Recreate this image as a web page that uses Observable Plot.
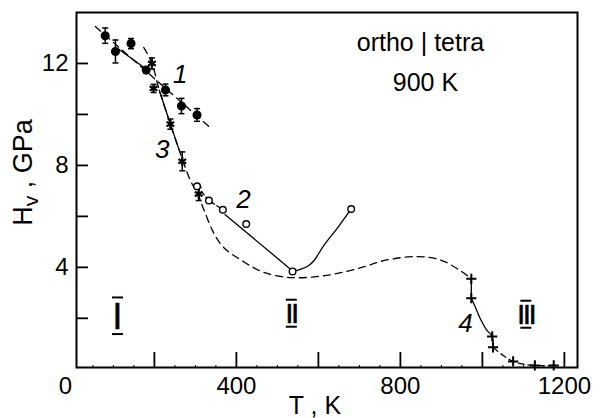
<!DOCTYPE html>
<html><head><meta charset="utf-8">
<script src="https://cdn.jsdelivr.net/npm/d3@7"></script>
<script src="https://cdn.jsdelivr.net/npm/@observablehq/plot@0.6"></script>
<style>body{margin:0;background:#fff} svg{display:block}</style>
</head><body><div id="chart"></div>
<script>
// Series 1: filled circles with error bars
const s1T = [80, 105, 143, 180, 227, 266, 304];
const s1H = [13.09, 12.47, 12.78, 11.74, 10.96, 10.33, 9.98];
const s1E = [0.3, 0.45, 0.2, 0.12, 0.23, 0.3, 0.25];
// Series 3: asterisks with error bars
const s3T = [194, 198, 239, 268, 308];
const s3H = [12.0, 11.02, 9.62, 8.16, 6.88];
const s3E = [0.22, 0.16, 0.2, 0.37, 0.26];
// Series 2: open circles
const s2T = [304, 333, 367, 424, 537, 680];
const s2H = [7.18, 6.62, 6.26, 5.70, 3.84, 6.29];
// Series 4: plus markers
const s4T = [973, 973, 1024, 1026, 1075, 1128, 1174];
const s4H = [3.55, 2.79, 1.29, 0.86, 0.31, 0.15, 0.15];

// Guide curves
const fit1T = [56, 337], fit1H = [13.45, 9.47];
const seg1T = [113, 180], seg1H = [12.56, 11.78];
const c3T = [174, 194, 212, 239, 261, 288, 304, 320, 344, 369, 414, 467, 532, 613, 694, 767, 841, 898, 946, 973];
const c3H = [12.63, 12.0, 10.95, 9.62, 8.58, 7.4, 6.94, 6.29, 5.37, 4.78, 4.26, 3.8, 3.6, 3.67, 3.94, 4.29, 4.42, 4.29, 3.87, 3.55];
const seg3T = [212, 239, 261], seg3H = [10.95, 9.62, 8.58];
const c2aT = [304, 333, 367], c2aH = [7.18, 6.62, 6.26];
const c2bT = [372, 532], c2bH = [6.07, 3.93];
const c2cT = [537, 556, 575, 589, 613, 650, 680], c2cH = [3.84, 3.92, 4.05, 4.26, 4.85, 5.62, 6.29];
const c4aT = [973, 973], c4aH = [3.55, 2.79];
const c4bT = [973, 983, 995, 1010, 1024, 1026], c4bH = [2.79, 2.43, 1.98, 1.55, 1.29, 0.86];
const c4cT = [1026, 1050, 1075, 1100, 1128, 1174], c4cH = [0.86, 0.55, 0.31, 0.2, 0.15, 0.15];

// Ticks
const yTicks = [2, 4, 6, 8, 10, 12];
const yLabels = [4, 8, 12];
const xTicks = [200, 400, 600, 800, 1000, 1200];
const xMinor = [50, 100, 150, 250, 300, 350, 450, 500, 550, 650, 700, 750, 850, 900, 950, 1050, 1100, 1150];
const xLabels = [400, 800, 1200];
const xZero = [0];

// Texts
const curveNames = ["1", "3", "2", "4"];
const curveNameT = [263, 219, 417, 959];
const curveNameH = [11.56, 8.62, 6.66, 1.79];
const romanNames = ["I", "II", "III"];
const romanT = [110, 534, 1106];
const romanH = [2.1, 2.2, 2.16];
const noteTexts = ["ortho | tetra", "900 K"];
const noteT = [849, 861];
const noteH = [12.79, 11.24];
const xTitle = "T , K";
const yTitle = "Hv , GPa";

const pts = (T, H, E) => T.map((t, i) => ({T: t, H: H[i], E: E ? E[i] : 0}));
const txt = (S, T, H) => S.map((s, i) => ({s, T: T[i], H: H[i]}));
const capSym = {draw(ctx, size) { const r = Math.sqrt(size / Math.PI); ctx.moveTo(-r, 0); ctx.lineTo(r, 0); }};
const font = "'Liberation Sans', Arial, sans-serif";
const fmt = d => String(d);

const p1 = pts(s1T, s1H, s1E), p3 = pts(s3T, s3H, s3E), p2 = pts(s2T, s2H), p4 = pts(s4T, s4H);
const romans = txt(romanNames, romanT, romanH);
const romanBig = romans.filter(d => d.s.length === 1), romanSmall = romans.filter(d => d.s.length > 1);
const line = (T, H, o) => Plot.line(pts(T, H), {x: "T", y: "H", stroke: "#000", strokeWidth: 1.3, ...o});
const bar = (data, dy) => Plot.dot(data, {x: "T", y: "H", symbol: capSym, r: 5.5, dy, stroke: "#000", strokeWidth: 2});
const dash = "7,5";

const chart = Plot.plot({
  width: 613, height: 418,
  marginLeft: 76, marginRight: 36, marginTop: 12, marginBottom: 51,
  style: {fontFamily: font, fontSize: "24px", color: "#000", background: "#fff"},
  x: {domain: [10, 1232]},
  y: {domain: [0.07, 14]},
  marks: [
    Plot.frame({strokeWidth: 2}),
    Plot.axisY(yTicks, {tickSize: -12, text: null, strokeWidth: 1.8, label: null}),
    Plot.axisY(yLabels, {tickSize: 0, tickPadding: 8, fontSize: 24, tickFormat: fmt, label: null}),
    Plot.axisX(xTicks, {tickSize: -15, text: null, strokeWidth: 1.8, label: null}),
    Plot.axisX(xMinor, {tickSize: -2, text: null, strokeWidth: 1, label: null}),
    Plot.axisX(xLabels, {tickSize: 0, tickPadding: 9, fontSize: 24, tickFormat: fmt, label: null}),
    Plot.axisX(xZero, {tickSize: 0, tickPadding: 9, fontSize: 24, dx: -7, tickFormat: fmt, label: null}),
    // curves
    line(fit1T, fit1H, {strokeDasharray: dash}),
    line(seg1T, seg1H, {}),
    line(c3T, c3H, {strokeDasharray: dash, curve: "catmull-rom"}),
    line(seg3T, seg3H, {curve: "catmull-rom"}),
    line(c2aT, c2aH, {strokeDasharray: "4,3"}),
    line(c2bT, c2bH, {}),
    line(c2cT, c2cH, {curve: "catmull-rom"}),
    line(c4aT, c4aH, {}),
    line(c4bT, c4bH, {curve: "catmull-rom"}),
    line(c4cT, c4cH, {strokeDasharray: "6,4", curve: "catmull-rom"}),
    // error bars
    Plot.ruleX(p1, {x: "T", y1: d => d.H - d.E, y2: d => d.H + d.E, strokeWidth: 1.5}),
    Plot.dot(p1, {x: "T", y: d => d.H - d.E, symbol: capSym, r: 3, stroke: "#000", strokeWidth: 1.5}),
    Plot.dot(p1, {x: "T", y: d => d.H + d.E, symbol: capSym, r: 3, stroke: "#000", strokeWidth: 1.5}),
    Plot.ruleX(p3, {x: "T", y1: d => d.H - d.E, y2: d => d.H + d.E, strokeWidth: 1.5}),
    Plot.dot(p3, {x: "T", y: d => d.H - d.E, symbol: capSym, r: 3, stroke: "#000", strokeWidth: 1.5}),
    Plot.dot(p3, {x: "T", y: d => d.H + d.E, symbol: capSym, r: 3, stroke: "#000", strokeWidth: 1.5}),
    // markers
    Plot.dot(p1, {x: "T", y: "H", r: 3.8, fill: "#000", stroke: "#000"}),
    Plot.dot(p3, {x: "T", y: "H", r: 4.2, symbol: "asterisk", stroke: "#000", strokeWidth: 2.2}),
    Plot.dot(p2, {x: "T", y: "H", r: 3.3, fill: "#fff", stroke: "#000", strokeWidth: 1.4}),
    Plot.dot(p4, {x: "T", y: "H", r: 3.4, symbol: "plus", stroke: "#000", strokeWidth: 2}),
    // region numerals with over/under bars
    Plot.text(romanBig, {x: "T", y: "H", text: "s", fontSize: 37, dy: 1.5, fill: "#000", stroke: "#000", strokeWidth: 0.4}),
    Plot.text(romanSmall, {x: "T", y: "H", text: "s", fontSize: 28, dy: 1.2, fill: "#000", stroke: "#000", strokeWidth: 0.6}),
    bar(romanBig, -18.3), bar(romanBig, 18.3),
    bar(romanSmall, -13.5), bar(romanSmall, 13.5),
    // labels
    Plot.text(txt(curveNames, curveNameT, curveNameH), {x: "T", y: "H", text: "s", fontSize: 26, fontStyle: "italic"}),
    Plot.text(txt(noteTexts, noteT, noteH), {x: "T", y: "H", text: "s", fontSize: 25}),
    Plot.text([xTitle], {frameAnchor: "bottom", textAnchor: "middle", lineAnchor: "middle", dx: -12, dy: 38, fontSize: 25}),
    Plot.text([yTitle], {frameAnchor: "left", textAnchor: "middle", lineAnchor: "middle", rotate: -90, dx: -53.5, dy: -17.5, fontSize: 27})
  ]
});

const sel = d3.select(chart);
sel.selectAll("text").filter(function() { return /^I{2,}$/.test(this.textContent); })
  .style("letter-spacing", "-2px");
sel.selectAll("text").filter(function() { return this.textContent === yTitle; }).each(function() {
  const t = d3.select(this);
  t.text(null);
  t.append("tspan").text("H");
  t.append("tspan").attr("font-size", 21).attr("dy", 6).text("v");
  t.append("tspan").attr("dy", -6).text(" , GPa");
});
document.getElementById("chart").appendChild(chart);
</script>
</body></html>
